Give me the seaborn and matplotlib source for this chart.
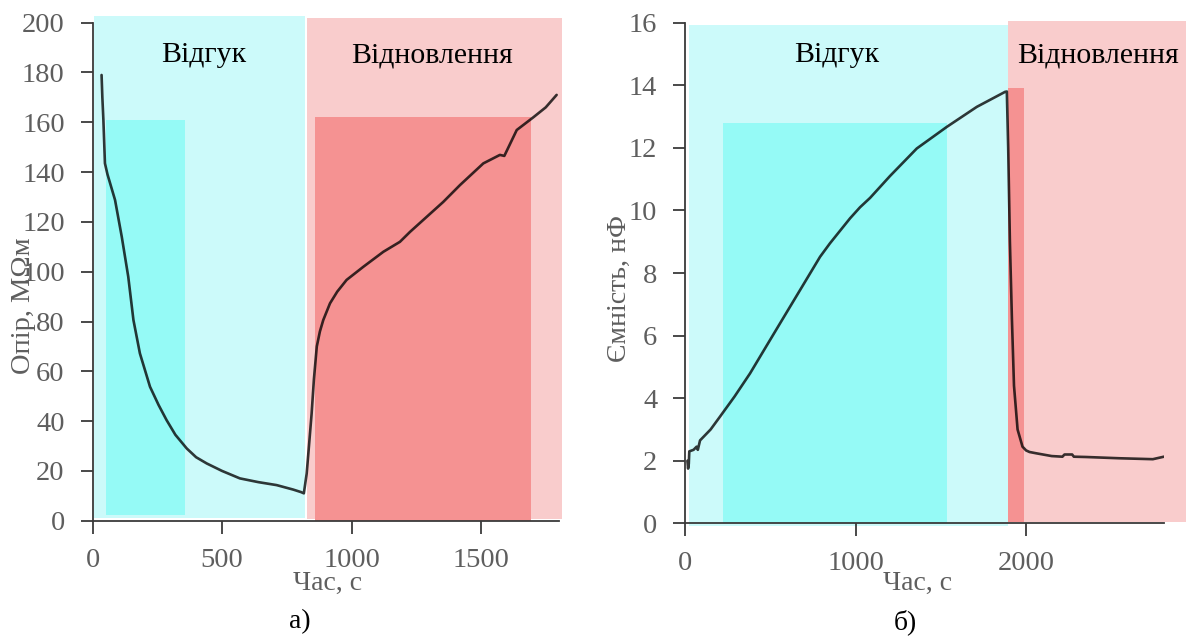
import matplotlib
matplotlib.use("Agg")
import matplotlib.pyplot as plt
from matplotlib.patches import Rectangle
import seaborn as sns

# (а) resistance response / recovery
t_res = [35, 38, 42, 48, 58, 68, 87, 113, 138, 158, 183, 222, 255, 286, 320,
         364, 400, 441, 500, 569, 640, 711, 775, 805, 816, 827, 846, 855, 866,
         878, 891, 917, 945, 981, 1046, 1123, 1187, 1226, 1290, 1354, 1419,
         1509, 1573, 1590, 1638, 1702, 1750, 1792]
r_res = [179, 170, 161, 143.5, 139, 135.5, 128.8, 114, 98, 80.6, 67.2, 53.8,
         46.5, 40.4, 34.5, 29, 25.5, 23, 20, 17, 15.5, 14.3, 12.5, 11.5, 11,
         19, 43, 57, 70, 76, 80.6, 87.3, 92, 96.7, 102, 108, 112, 116, 122,
         128, 134.8, 143.5, 146.9, 146.5, 156.9, 162, 166, 171]

# (б) capacitance response / recovery
t_cap = [14, 18, 22, 25, 50, 68, 75, 88, 150, 205, 290, 381, 470, 557, 674,
         792, 850, 909, 968, 1026, 1085, 1202, 1359, 1535, 1711, 1877, 1887,
         1895, 1905, 1917, 1929, 1950, 1979, 2000, 2020, 2058, 2150, 2213,
         2225, 2270, 2280, 2352, 2546, 2743, 2808]
c_cap = [2.0, 1.75, 1.9, 2.3, 2.35, 2.45, 2.35, 2.65, 3.0, 3.41, 4.05, 4.79,
         5.6, 6.39, 7.45, 8.52, 8.95, 9.35, 9.75, 10.1, 10.4, 11.1, 11.98,
         12.67, 13.31, 13.79, 13.8, 12.0, 9.0, 6.5, 4.4, 3.0, 2.45, 2.33,
         2.28, 2.24, 2.15, 2.13, 2.2, 2.2, 2.13, 2.12, 2.08, 2.05, 2.13]

# shaded zones: (x0, x1, y0, y1)
res_zones_light = [(6, 820, 1, 202.8), (829, 1812, 0.7, 202)]
res_zones_dark = [(52, 358, 2.3, 161), (859, 1693, 0, 162)]
cap_zones_light = [(25, 1893, -0.1, 15.92), (1893, 2938, 0.05, 16.05)]
cap_zones_dark = [(221, 1535, 0, 12.78), (1893, 1990, 0.05, 13.92)]

res_yticks = list(range(0, 201, 20))
res_xticks = [0, 500, 1000, 1500]
cap_yticks = list(range(0, 17, 2))
cap_xticks = [0, 1000, 2000]

zone_labels = ["Відгук", "Відновлення"]

sns.set_theme(style="ticks")
plt.rcParams["font.family"] = ["Liberation Serif", "DejaVu Serif"]

light_cols = ["#ccfafa", "#f9cccc"]
dark_cols = ["#95faf6", "#f59292"]
axis_col = "#3a3a3a"
text_gray = "#5e5e5e"

fig = plt.figure(figsize=(11.86, 6.39), dpi=100)
ax1 = fig.add_axes([0.078, 0.1851, 0.3933, 0.7794])
ax2 = fig.add_axes([0.5776, 0.1810, 0.4039, 0.7835])


def add_zones(ax, light, dark):
    for (x0, x1, y0, y1), c in zip(light, light_cols):
        ax.add_patch(Rectangle((x0, y0), x1 - x0, y1 - y0, facecolor=c,
                               edgecolor="none", zorder=0, clip_on=False))
    for (x0, x1, y0, y1), c in zip(dark, dark_cols):
        ax.add_patch(Rectangle((x0, y0), x1 - x0, y1 - y0, facecolor=c,
                               edgecolor="none", zorder=1, clip_on=False))


def style_axis(ax):
    for s in ["top", "right"]:
        ax.spines[s].set_visible(False)
    for s in ["left", "bottom"]:
        ax.spines[s].set_color(axis_col)
        ax.spines[s].set_linewidth(1.3)
        ax.spines[s].set_zorder(5)
    ax.tick_params(axis="both", direction="out", length=9, width=1.3,
                   color=axis_col, labelcolor=text_gray, labelsize=20.5, pad=11)
    ax.grid(False)
    ax.set_facecolor("none")


# --- (а) ---
add_zones(ax1, res_zones_light, res_zones_dark)
sns.lineplot(x=t_res, y=r_res, ax=ax1, color="black", alpha=0.78,
             linewidth=1.9, zorder=3)
ax1.set_xlim(0, 1801)
ax1.set_ylim(0, 200)
ax1.set_xticks(res_xticks)
ax1.set_yticks(res_yticks)
style_axis(ax1)
ax1.set_xlabel("Час, с", fontsize=20, color=text_gray)
ax1.set_ylabel("Опір, МΩм", fontsize=20.5, color=text_gray)
ax1.xaxis.set_label_coords(0.503, -0.125)
ax1.yaxis.set_label_coords(-0.149, 0.431)
ax1.xaxis.label.set_va("center")
ax1.yaxis.label.set_va("center")
ax1.text(430, 187, zone_labels[0], fontsize=21.5, color="black",
         ha="center", va="center", zorder=4)
ax1.text(1311, 187, zone_labels[1], fontsize=21.5, color="black",
         ha="center", va="center", zorder=4)

# --- (б) ---
add_zones(ax2, cap_zones_light, cap_zones_dark)
sns.lineplot(x=t_cap, y=c_cap, ax=ax2, color="black", alpha=0.78,
             linewidth=1.9, zorder=3)
ax2.set_xlim(0, 2809)
ax2.set_ylim(0, 16)
ax2.set_xticks(cap_xticks)
ax2.set_yticks(cap_yticks)
style_axis(ax2)
ax2.set_xlabel("Час, с", fontsize=20, color=text_gray)
ax2.set_ylabel("Ємність, нФ", fontsize=20, color=text_gray)
ax2.xaxis.set_label_coords(0.486, -0.119)
ax2.yaxis.set_label_coords(-0.136, 0.47)
ax2.xaxis.label.set_va("center")
ax2.yaxis.label.set_va("center")
ax2.text(890, 14.96, zone_labels[0], fontsize=21.5, color="black",
         ha="center", va="center", zorder=4)
ax2.text(2420, 14.96, zone_labels[1], fontsize=21.5, color="black",
         ha="center", va="center", zorder=4)

fig.text(0.253, 0.027, "а)", fontsize=20, color="black", ha="center", va="center")
fig.text(0.763, 0.027, "б)", fontsize=20, color="black", ha="center", va="center")

fig.savefig("out.png", dpi=100)
